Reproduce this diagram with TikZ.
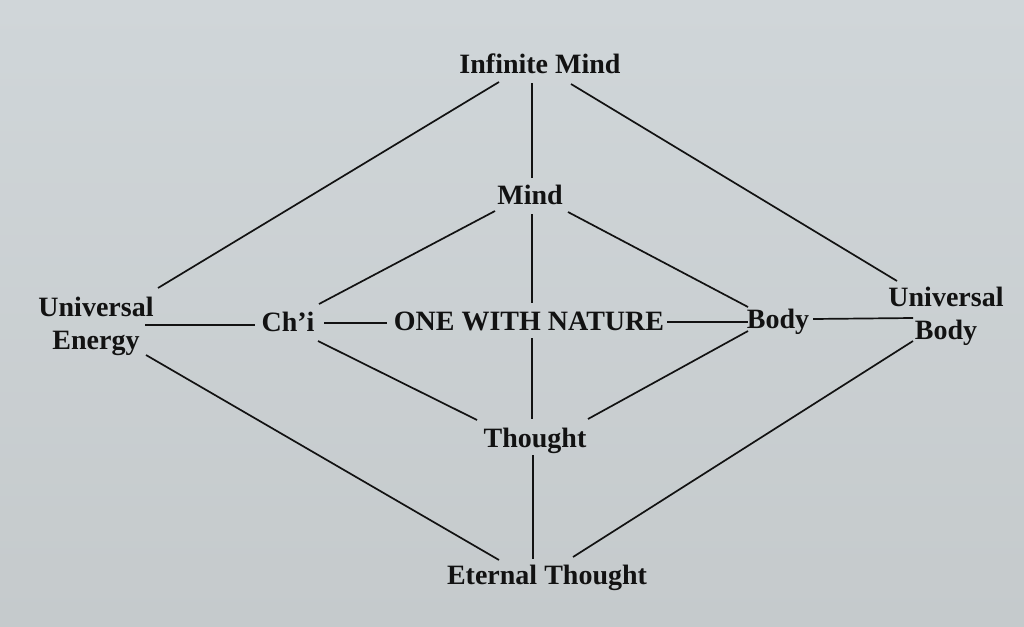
\documentclass[tikz,border=0pt]{standalone}
\usepackage{fontspec}
\setmainfont{Liberation Serif}
\usetikzlibrary{calc}
\definecolor{bgtop}{RGB}{208,214,217}
\definecolor{bgbot}{RGB}{197,202,204}
\definecolor{ink}{RGB}{18,18,18}
\begin{document}
\begin{tikzpicture}[x=1pt,y=-1pt,
  lbl/.style={font=\fontsize{28}{33}\selectfont\bfseries, text=ink, inner sep=0pt, align=center},
  conn/.style={draw=ink, line width=1.7pt}]
\shade[top color=bgtop,bottom color=bgbot] (0,0) rectangle (1024,626);
\useasboundingbox (0,0) rectangle (1024,626);
% nodes
\node[lbl,anchor=base] (IM) at (540,74) {Infinite Mind};
\node[lbl,anchor=base] (Mind) at (530,204) {Mind};
\node[lbl,anchor=base] (ONE) at (529,330) {ONE WITH NATURE};
\node[lbl,anchor=base] (Chi) at (288,331) {Ch’i};
\node[lbl,anchor=base] (Body) at (778,328) {Body};
\node[lbl,anchor=base] (Thought) at (535,447) {Thought};
\node[lbl,anchor=base] (ET) at (547,584) {Eternal Thought};
\node[lbl] (UE) at (96,326) {Universal\\Energy};
\node[lbl] (UB) at (946,316) {Universal\\Body};
% connectors
\draw[conn] ($(IM.base)+(-41,8)$) -- ($(UE)+(62,-38)$);
\draw[conn] ($(IM.base)+(-8,9)$) -- ($(Mind.base)+(2,-26)$);
\draw[conn] ($(IM.base)+(31,10)$) -- ($(UB)+(-49,-35)$);
\draw[conn] ($(Mind.base)+(-35,7)$) -- ($(Chi.base)+(31,-27)$);
\draw[conn] ($(Mind.base)+(2,10)$) -- ($(ONE.base)+(3,-27)$);
\draw[conn] ($(Mind.base)+(38,8)$) -- ($(Body.base)+(-30,-21)$);
\draw[conn] ($(UE)+(49,-1)$) -- ($(Chi.base)+(-33,-6)$);
\draw[conn] ($(Chi.base)+(36,-8)$) -- ($(ONE.base)+(-142,-7)$);
\draw[conn] ($(ONE.base)+(138,-8)$) -- ($(Body.base)+(-30,-6)$);
\draw[conn] ($(Body.base)+(35,-9)$) -- ($(UB)+(-33,2)$);
\draw[conn] ($(Chi.base)+(30,10)$) -- ($(Thought.base)+(-58,-27)$);
\draw[conn] ($(ONE.base)+(3,8)$) -- ($(Thought.base)+(-3,-28)$);
\draw[conn] ($(Body.base)+(-30,3)$) -- ($(Thought.base)+(53,-28)$);
\draw[conn] ($(UE)+(50,29)$) -- ($(ET.base)+(-48,-24)$);
\draw[conn] ($(Thought.base)+(-2,8)$) -- ($(ET.base)+(-14,-25)$);
\draw[conn] ($(UB)+(-33,25)$) -- ($(ET.base)+(26,-27)$);
\end{tikzpicture}
\end{document}
